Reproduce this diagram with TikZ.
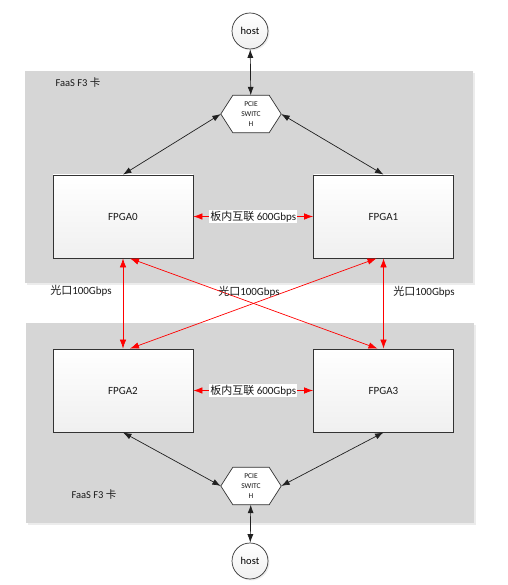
\documentclass[tikz,border=0pt]{standalone}
\usepackage{fontspec}
\setmainfont{Carlito}
\newfontfamily\cjk{Noto Sans CJK SC}
\usetikzlibrary{arrows.meta,shadows,calc}
\tikzset{
  card/.style = {draw = none, fill = gray!32, drop shadow = {opacity = 0.15, shadow xshift = 2pt, shadow yshift = -2pt}},
  cardlabel/.style = {anchor = west, font = \fontsize{10.5}{12}\selectfont, text = gray!20!black},
  fpgabox/.style = {draw = gray!40!black, line width = 0.8pt, top color = white, bottom color = gray!12, minimum width = 140pt, minimum height = 83pt, font = \fontsize{11}{13}\selectfont, text = gray!20!black},
  hostnode/.style = {circle, draw = gray!40!black, line width = 0.7pt, top color = white, bottom color = gray!12, minimum size = 36pt, inner sep = 0pt, font = \fontsize{10.5}{12}\selectfont, drop shadow = {opacity = 0.15, shadow xshift = 1.5pt, shadow yshift = -1.5pt}},
  switchnode/.style = {minimum width = 60pt, minimum height = 37pt, inner sep = 0pt, align = center, font = \fontsize{7.5}{10}\selectfont, text = gray!20!black},
  pcielink/.style = {{Latex[length = 8.5pt, width = 6pt]}-{Latex[length = 8.5pt, width = 6pt]}, gray!25!black, line width = 0.7pt},
  optlink/.style = {{Latex[length = 9pt, width = 6.5pt]}-{Latex[length = 9pt, width = 6.5pt]}, red, line width = 0.7pt},
  boardlabel/.style = {fill = white, inner sep = 1pt, font = \fontsize{11}{13}\selectfont, text = gray!20!black},
  portlabel/.style = {font = \fontsize{11}{13}\selectfont, text = gray!20!black}
}
\begin{document}
\begin{tikzpicture}[x = 1pt, y = -1pt]
	\useasboundingbox (0, 0) rectangle (507, 585);
	% cards
	\fill[card] (25, 71) rectangle (473, 283);
	\fill[card] (26, 323) rectangle (474, 523);
	\node[cardlabel] (card1) at (52, 83) {FaaS F3 {\cjk 卡}};
	\node[cardlabel] (card2) at (68, 495) {FaaS F3 {\cjk 卡}};
	% hosts
	\node[hostnode] (host1) at (250, 31) {host};
	\node[hostnode] (host2) at (250, 561) {host};
	% switches
	\node[switchnode] (sw1) at (251, 114) {};
	\node[switchnode] (sw2) at (251, 486) {};
	\foreach \s in {sw1, sw2} {
		\filldraw[draw = gray!40!black, line width = 0.7pt, fill = white] (\s.west) -- ($(\s.north west)+(12, 0)$) -- ($(\s.north east)+(-12, 0)$) -- (\s.east) -- ($(\s.south east)+(-12, 0)$) -- ($(\s.south west)+(12, 0)$) -- cycle;
		\node[switchnode] (\s text) at (\s) {PCIE\\SWITC\\H};
	}
	% fpgas
	\node[fpgabox] (f0) at (123, 216.5) {FPGA0};
	\node[fpgabox] (f1) at (383.5, 216.5) {FPGA1};
	\node[fpgabox] (f2) at (123, 390.5) {FPGA2};
	\node[fpgabox] (f3) at (383.5, 390.5) {FPGA3};
	% pcie links
	\draw[pcielink] (host1) -- (sw1);
	\draw[pcielink] (sw1.west) -- (f0.north);
	\draw[pcielink] (sw1.east) -- (f1.north);
	\draw[pcielink] (host2) -- (sw2);
	\draw[pcielink] (sw2.west) -- (f2.south);
	\draw[pcielink] (sw2.east) -- (f3.south);
	% board links
	\draw[optlink] (f0) -- (f1) node[midway, boardlabel] (bl1) {{\cjk 板内互联} 600Gbps};
	\draw[optlink] (f2) -- (f3) node[midway, boardlabel] (bl2) {{\cjk 板内互联} 600Gbps};
	% optical links
	\draw[optlink] (f0.south) -- (f2.north);
	\draw[optlink] (f1.south) -- (f3.north);
	\draw[optlink] ($(f0.south)+(7, 0)$) -- ($(f3.north)+(-6, 0)$);
	\draw[optlink] ($(f1.south)+(-7, 0)$) -- ($(f2.north)+(7, 0)$);
	\node[portlabel] (p0) at (81, 291) {{\cjk 光口}100Gbps};
	\node[portlabel] (p1) at (249, 292) {{\cjk 光口}100Gbps};
	\node[portlabel] (p2) at (424, 292) {{\cjk 光口}100Gbps};
\end{tikzpicture}
\end{document}
